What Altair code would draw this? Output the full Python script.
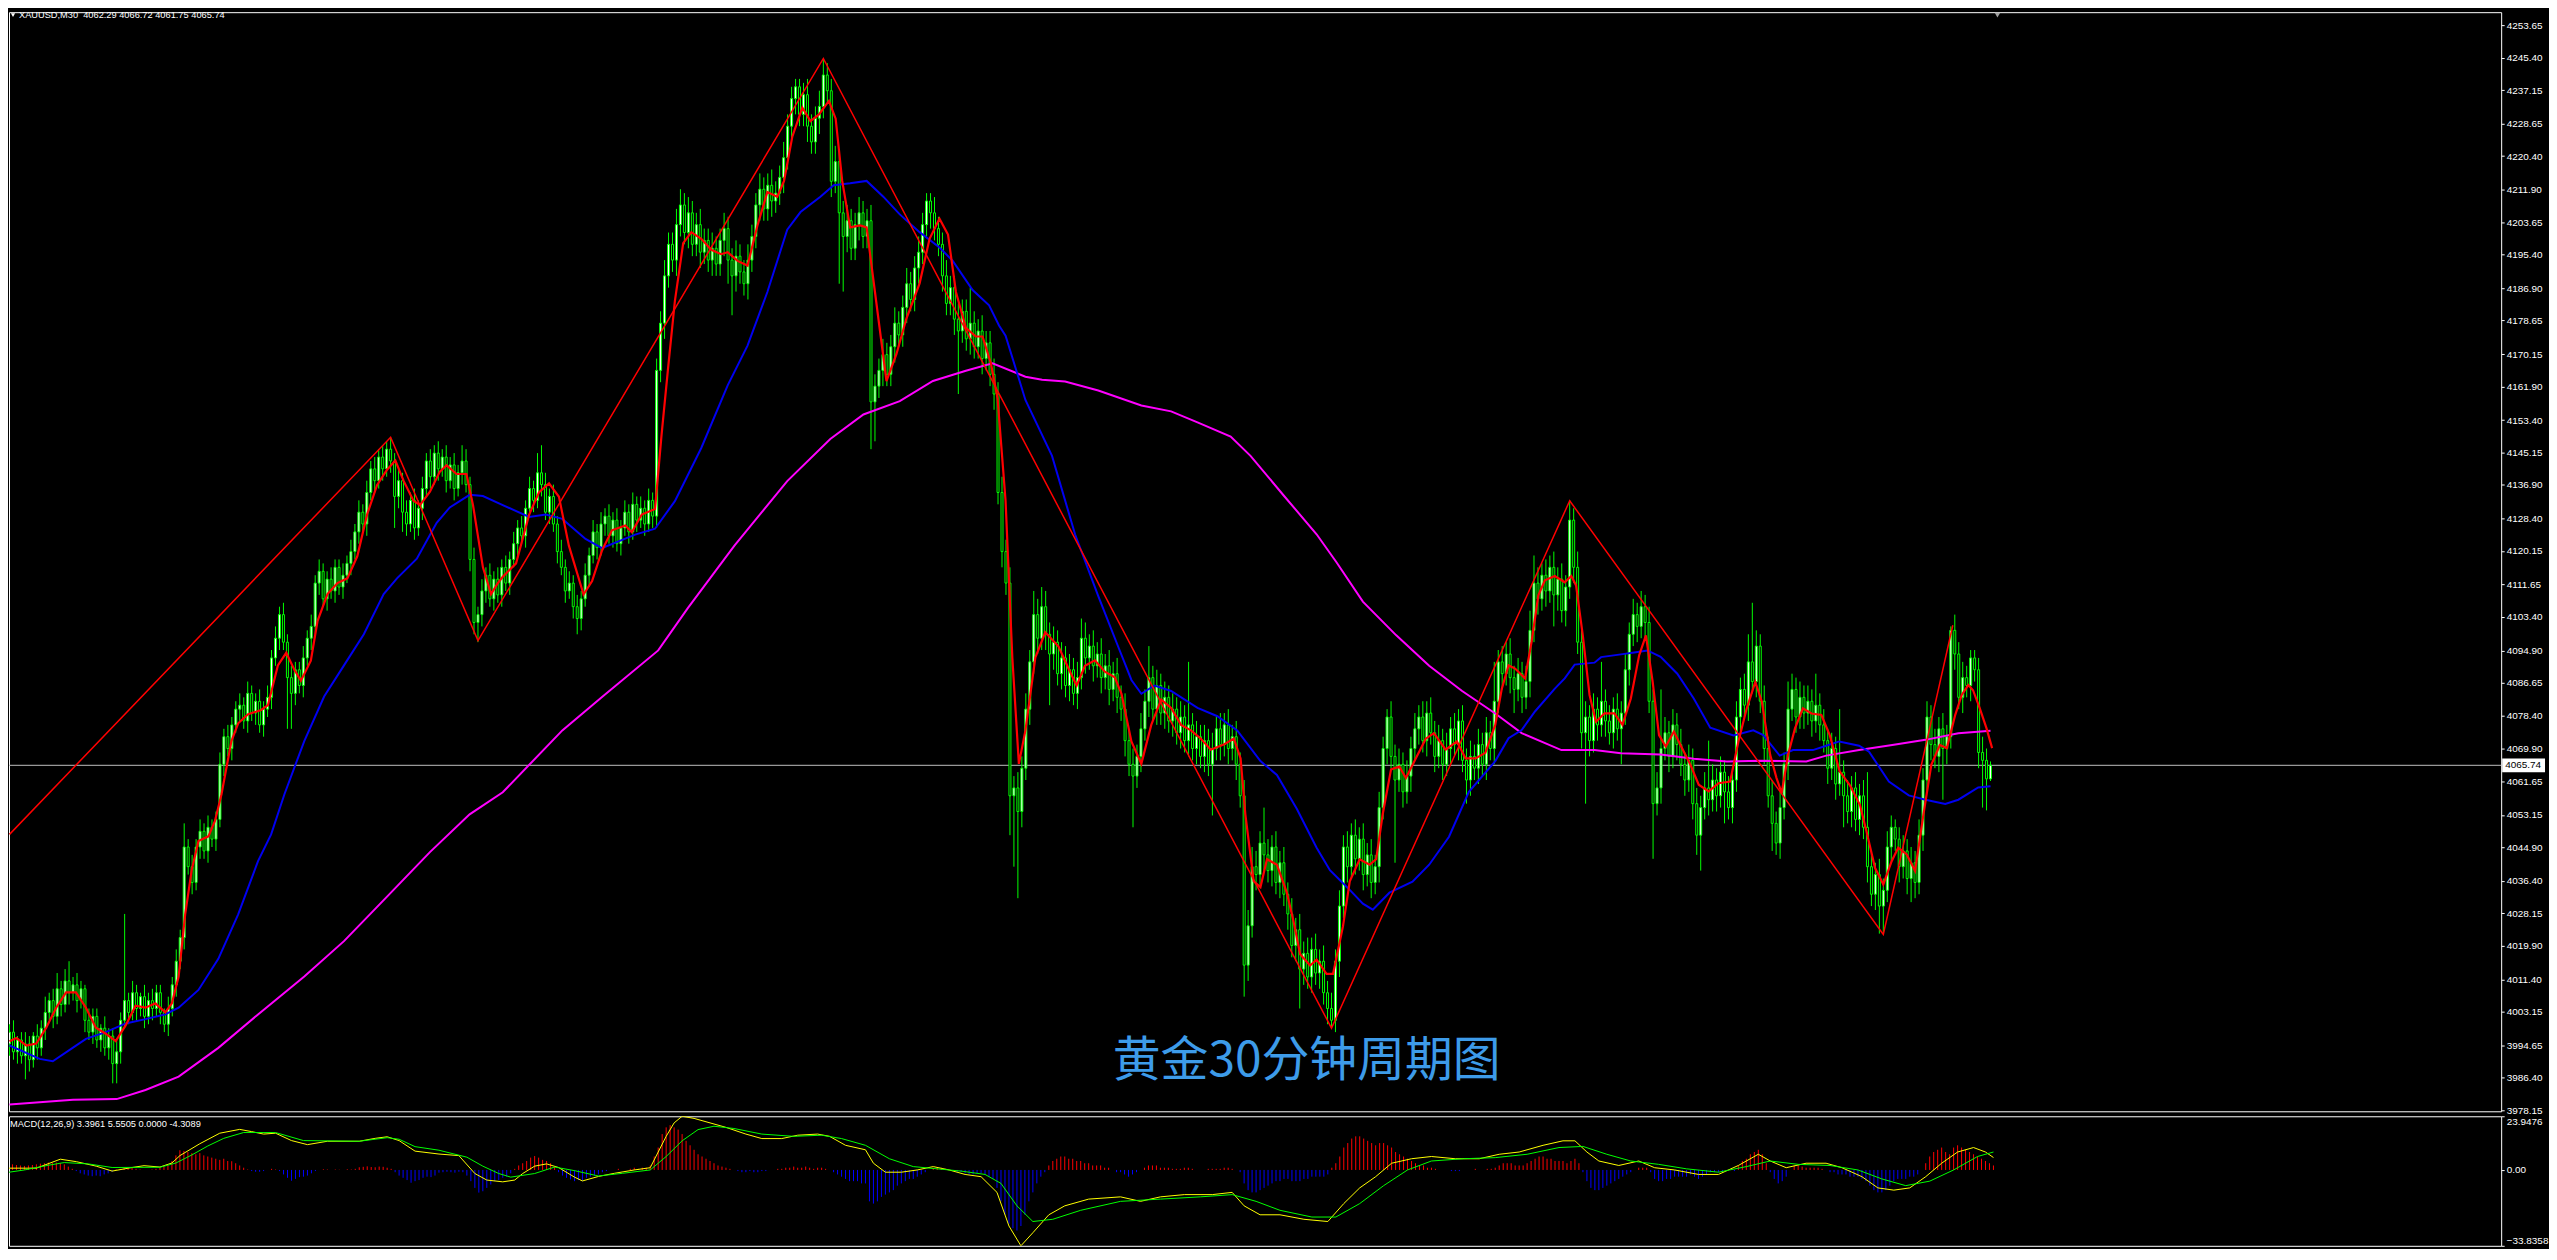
import altair as alt
import pandas as pd

# ---------------- data ----------------
PRICE_TICKS = [4253.65, 4245.40, 4237.15, 4228.65, 4220.40, 4211.90, 4203.65, 4195.40,
               4186.90, 4178.65, 4170.15, 4161.90, 4153.40, 4145.15, 4136.90, 4128.40,
               4120.15, 4111.65, 4103.40, 4094.90, 4086.65, 4078.40, 4069.90, 4061.65,
               4053.15, 4044.90, 4036.40, 4028.15, 4019.90, 4011.40, 4003.15, 3994.65,
               3986.40, 3978.15]
MACD_TICKS = [23.9476, 0.0, -33.8358]

FIRST_OPEN = 3995.0
CLOSE = [
    3998, 3993, 3996, 3992, 3995, 3991, 3997, 3994, 3999,
    4003, 4006, 4002, 4009, 4005, 4011, 4008, 4010,
    4006, 4009, 4001, 3998, 4002, 3996, 3999, 3994, 3997, 3990, 3993,
    4001, 4006, 4003, 4008, 4004, 4007, 4002, 4006, 4004, 4008, 4003, 4000, 4004,
    4010, 4016, 4022, 4045, 4040, 4036, 4045, 4049, 4044, 4050, 4047, 4052,
    4066, 4073, 4070, 4076, 4080,
    4081, 4077, 4084, 4079, 4082, 4076, 4080, 4083,
    4093, 4098, 4104, 4097, 4088,
    4084, 4090, 4086, 4093,
    4098, 4101, 4112, 4115, 4108, 4113,
    4110, 4116, 4111, 4114, 4117, 4120,
    4125, 4130, 4127, 4135, 4141, 4138, 4144,
    4141, 4146, 4143, 4134, 4138,
    4130, 4127, 4133, 4126, 4131, 4136,
    4143, 4139, 4145, 4141, 4144, 4138, 4142, 4136, 4140, 4143, 4137,
    4118, 4102, 4104, 4110, 4114, 4108, 4113, 4109, 4116,
    4112, 4118, 4122, 4126, 4124, 4131, 4136, 4133, 4140, 4137, 4130,
    4134, 4127, 4120, 4116, 4110, 4112, 4106, 4103, 4108,
    4114, 4119, 4125, 4121, 4127,
    4129, 4124, 4128, 4122, 4126, 4130, 4125, 4132, 4128, 4131, 4127, 4133, 4129,
    4166, 4178, 4190, 4198, 4194,
    4203, 4208, 4201, 4206,
    4198, 4203, 4196, 4199, 4194, 4197, 4193, 4199, 4202, 4194, 4190, 4195, 4191, 4188, 4194,
    4200, 4208, 4212, 4207, 4213, 4209, 4211, 4215, 4220,
    4228, 4235, 4238, 4231, 4236,
    4228, 4224, 4230, 4233,
    4241, 4237,
    4214, 4219, 4206, 4200, 4204, 4197, 4203, 4206, 4200, 4204,
    4158, 4162, 4166, 4170, 4165, 4172,
    4178, 4175, 4182, 4188, 4184, 4192, 4196,
    4203, 4209, 4206, 4202, 4198,
    4190, 4183, 4187, 4179, 4176, 4181, 4174,
    4178, 4172, 4176, 4169, 4173, 4165, 4160,
    4135, 4120, 4112, 4058, 4060, 4054,
    4065, 4080, 4092, 4104, 4098, 4106,
    4099, 4094, 4097, 4089, 4093, 4086, 4090, 4084, 4088,
    4098, 4093, 4096, 4091, 4094, 4088, 4091, 4085, 4089, 4083, 4080,
    4072, 4066, 4063, 4068,
    4075, 4082, 4088, 4080, 4086, 4079,
    4083, 4077, 4080, 4074, 4078, 4072, 4076, 4070, 4073, 4068, 4072, 4066, 4070, 4075, 4071, 4076, 4070, 4073,
    4066, 4058, 4015, 4025, 4040, 4038, 4046,
    4043, 4039, 4045, 4036, 4041, 4033,
    4028, 4020, 4024, 4014, 4018,
    4012, 4019, 4013, 4016, 4008, 4004, 4001, 4016,
    4030, 4045, 4040, 4048,
    4042, 4047, 4038, 4043, 4036, 4040,
    4055, 4070, 4078, 4068,
    4062, 4066, 4059, 4063, 4070,
    4075, 4078, 4072, 4079, 4074,
    4068, 4072, 4066, 4070, 4075, 4071, 4077, 4067,
    4062, 4068, 4065, 4071, 4066, 4074, 4070, 4082,
    4092, 4089, 4094, 4088, 4085, 4089, 4083, 4087,
    4100, 4112, 4108, 4114, 4110, 4116, 4109, 4113, 4105, 4111, 4128, 4116, 4097, 4074,
    4078, 4072, 4080,
    4076, 4082, 4077, 4074, 4080, 4075, 4079,
    4090, 4099, 4104, 4101, 4106, 4102,
    4082, 4056, 4060, 4070, 4074, 4068, 4076, 4071,
    4066, 4062, 4067, 4056, 4048, 4055, 4060, 4057,
    4062, 4058, 4064, 4059, 4055, 4062,
    4078, 4085, 4081, 4092, 4087, 4096,
    4082, 4070, 4058, 4051, 4046, 4055,
    4066, 4080, 4085, 4078, 4083,
    4079, 4082, 4077, 4081, 4076,
    4072, 4065, 4070, 4061, 4064,
    4058, 4054, 4060, 4052, 4058, 4050,
    4040, 4033, 4038, 4030, 4034,
    4045, 4050, 4047,
    4040, 4044, 4037, 4041, 4036,
    4048, 4062, 4078, 4071, 4068, 4075,
    4070, 4073, 4100, 4094,
    4083, 4088, 4086, 4093, 4090,
    4069, 4067, 4062.29, 4065.74,
]

UPPER_WICK = [
    2, 3, 1, 2, 3, 2, 1, 3, 2, 4,
    2, 3, 4, 2, 3, 5, 2, 3, 2, 1,
    3, 2, 2, 1, 3, 2, 2, 3, 2, 22,
    2, 3, 2, 1, 3, 2, 3, 2, 2, 1,
    3, 2, 3, 2, 6, 2, 3, 2, 3, 2,
    3, 2, 2, 3, 2, 3, 2, 2, 3, 2,
    3, 2, 2, 3, 2, 3, 2, 3, 2, 3,
    2, 3, 2, 2, 3, 2, 3, 2, 3, 2,
    2, 3, 2, 2, 3, 2, 3, 2, 3, 2,
    3, 2, 3, 2, 3, 2, 3, 2, 3, 2,
    3, 2, 3, 2, 3, 2, 3, 2, 3, 2,
    3, 2, 3, 2, 4, 3, 2, 3, 2, 3,
    2, 3, 2, 3, 2, 3, 2, 3, 2, 3,
    2, 3, 2, 5, 7, 3, 2, 3, 2, 3,
    2, 3, 2, 3, 2, 3, 2, 3, 2, 3,
    2, 3, 2, 3, 2, 3, 2, 3, 2, 3,
    2, 3, 2, 3, 3, 4, 3, 3, 4, 4,
    3, 4, 3, 3, 4, 3, 3, 4, 3, 3,
    4, 3, 3, 4, 3, 3, 4, 3, 3, 4,
    3, 3, 4, 3, 3, 4, 3, 3, 2, 2,
    3, 4, 3, 3, 4, 4, 3, 3, 4, 3,
    3, 4, 3, 3, 4, 3, 3, 4, 3, 3,
    4, 3, 3, 4, 3, 3, 4, 3, 3, 4,
    3, 2, 2, 4, 3, 3, 4, 3, 3, 4,
    3, 3, 9, 3, 3, 4, 3, 3, 4, 3,
    4, 3, 4, 3, 4, 3, 4, 3, 6, 4,
    5, 4, 3, 4, 3, 4, 3, 4, 3, 4,
    5, 4, 3, 4, 3, 4, 3, 4, 3, 4,
    3, 4, 3, 4, 3, 4, 3, 8, 3, 4,
    3, 4, 3, 4, 3, 4, 3, 16, 3, 4,
    3, 4, 3, 4, 3, 4, 3, 4, 3, 4,
    3, 4, 4, 5, 4, 3, 9, 4, 3, 4,
    3, 4, 3, 4, 3, 4, 3, 4, 3, 4,
    3, 4, 3, 4, 3, 4, 3, 4, 3, 4,
    3, 4, 3, 4, 3, 4, 3, 2, 4, 3,
    4, 3, 4, 3, 4, 3, 4, 3, 4, 3,
    4, 3, 4, 3, 4, 3, 4, 3, 4, 3,
    4, 3, 4, 3, 10, 3, 4, 3, 4, 3,
    4, 3, 4, 5, 7, 4, 3, 4, 3, 4,
    3, 4, 3, 5, 3, 4, 3, 4, 3, 4,
    3, 10, 3, 4, 3, 4, 3, 4, 3, 4,
    3, 4, 3, 4, 3, 4, 15, 4, 3, 4,
    3, 4, 3, 4, 3, 4, 3, 4, 12, 4,
    3, 4, 3, 4, 3, 4, 3, 4, 7, 15,
    4, 3, 4, 3, 4, 3, 4, 3, 7, 4,
    3, 4, 3, 4, 3, 8, 3, 4, 3, 4,
    3, 16, 3, 4, 3, 4, 3, 4, 14, 4,
    3, 4, 3, 4, 3, 2, 3, 4, 3, 4,
    3, 4, 3, 4, 3, 4, 3, 4, 3, 1,
    4, 3, 4, 3, 2, 2, 3, 4, 3, 0.98,
]

LOWER_WICK = [
    3, 2, 3, 2, 6, 3, 2, 3, 2, 3,
    2, 3, 2, 3, 2, 3, 2, 3, 2, 3,
    2, 3, 2, 3, 2, 3, 5, 5, 3, 2,
    3, 2, 3, 2, 3, 2, 3, 2, 3, 2,
    3, 2, 3, 2, 3, 2, 3, 2, 3, 2,
    3, 2, 3, 2, 3, 2, 3, 2, 3, 2,
    3, 2, 3, 2, 3, 2, 3, 2, 3, 2,
    13, 9, 3, 2, 3, 2, 3, 2, 3, 2,
    3, 2, 3, 2, 3, 2, 3, 2, 3, 2,
    3, 2, 3, 2, 3, 2, 3, 8, 3, 5,
    3, 2, 3, 2, 3, 2, 3, 2, 3, 2,
    3, 2, 3, 2, 3, 2, 3, 3, 5, 3,
    3, 2, 3, 2, 3, 2, 3, 2, 3, 2,
    3, 2, 3, 2, 3, 2, 3, 2, 3, 2,
    3, 2, 3, 4, 3, 2, 3, 2, 3, 2,
    3, 2, 3, 2, 3, 2, 3, 2, 3, 2,
    3, 2, 3, 3, 3, 4, 3, 3, 4, 3,
    3, 4, 3, 3, 4, 3, 3, 4, 3, 3,
    4, 6, 10, 4, 3, 3, 4, 3, 3, 4,
    3, 3, 4, 3, 3, 4, 3, 3, 4, 3,
    3, 4, 3, 3, 4, 3, 3, 4, 3, 18,
    14, 4, 3, 3, 4, 3, 3, 12, 10, 3,
    4, 3, 3, 4, 3, 3, 4, 3, 3, 4,
    3, 3, 4, 3, 3, 4, 3, 3, 4, 16,
    3, 3, 4, 3, 3, 4, 3, 3, 4, 3,
    4, 3, 10, 18, 22, 4, 3, 4, 3, 4,
    3, 4, 13, 4, 3, 4, 3, 4, 3, 4,
    3, 4, 3, 4, 3, 4, 3, 4, 3, 4,
    3, 4, 3, 13, 3, 4, 3, 4, 3, 4,
    3, 4, 3, 4, 3, 4, 3, 4, 3, 4,
    3, 4, 3, 13, 3, 4, 3, 4, 3, 4,
    3, 8, 4, 3, 4, 3, 4, 3, 4, 3,
    4, 3, 4, 3, 4, 10, 4, 3, 4, 3,
    4, 3, 4, 2, 3, 4, 3, 4, 3, 4,
    3, 4, 3, 4, 3, 4, 3, 4, 3, 21,
    3, 4, 3, 4, 3, 4, 3, 4, 3, 4,
    3, 4, 3, 4, 3, 4, 3, 6, 4, 3,
    4, 3, 4, 3, 4, 3, 4, 3, 4, 6,
    3, 4, 3, 4, 3, 4, 3, 4, 3, 8,
    4, 3, 4, 3, 4, 3, 4, 18, 4, 3,
    4, 3, 4, 3, 4, 3, 9, 3, 4, 3,
    4, 3, 4, 3, 14, 3, 4, 3, 4, 3,
    4, 3, 4, 3, 4, 5, 9, 3, 4, 3,
    4, 3, 8, 3, 4, 3, 4, 3, 4, 3,
    4, 3, 4, 3, 7, 3, 4, 3, 4, 3,
    4, 3, 4, 3, 4, 3, 4, 3, 4, 3,
    4, 3, 8, 3, 4, 3, 4, 3, 4, 3,
    4, 7, 7, 3, 4, 3, 4, 3, 4, 6,
    4, 3, 4, 3, 4, 3, 4, 13, 4, 3,
    4, 3, 4, 3, 4, 3, 4, 12, 8, 0.54,
]

MACD_HIST = [
    3.9, 3.0, 2.5, 2.2, 2.0, 1.8, 2.0, 2.2, 2.5, 2.8, 3.0, 3.3, 3.2, 3.3, 3.0, 2.5, 1.5,
    0.5,
    -0.5, -1.5, -2.0, -2.5, -2.8, -2.5, -2.8, -2.0, -1.5, -0.8,
    0.3, 0.5, 0.8, 1.2, 1.0, 0.5, 0.2, 0, 0, 0.2, 0.5,
    1.0, 1.5, 2.0, 4.0, 6.5, 8.8, 8.5, 8.0, 7.5, 7.0, 7.5, 6.5, 6.0, 5.5, 5.0, 4.5, 5.0, 4.0, 3.9, 3.0, 2.0, 1.0,
    0.2, -0.5, -0.8, -0.8, -0.5, 0, 0.5, 0.2, -0.5,
    -2.0, -3.5, -4.8, -4.0, -3.2, -3.0, -2.5, -1.5,
    -0.5, 0, 0.3, 0.2, 0, 0.2, 0.1, 0, 0.3, 0.2, 0.5,
    1.2, 1.4, 1.6, 1.3, 1.2, 1.5, 1.4, 1.0, 0.5,
    -1.0, -2.5, -3.5, -4.5, -5.7, -5.0, -4.5, -3.5, -3.0, -3.2, -2.5,
    -1.2, -1.0, -0.8, -1.0, -1.2, -0.8, -1.0, -2.5, -5.0,
    -8.0, -10.1, -9.5, -8.0, -6.5, -5.0,
    -4.5, -3.5, -3.0, -1.5,
    0.5, 2.0, 3.0, 4.0, 5.5, 6.2, 5.5, 4.5, 4.0, 3.0, 1.5,
    -1.0, -2.5, -3.5, -4.2, -5.0, -4.5, -4.8, -3.5, -3.0, -2.5, -2.0,
    -1, -0.5, 0, 0, 0.5, 0, 0, 0.5, 1, 0.5, 1, 1, 2,
    6, 10, 16, 19, 20, 19, 18, 16, 13, 11, 9,
    7, 6, 5, 4, 3, 2, 1.5, 1, 0.5, 0, -0.5, -1, -1,
    -0.5, -1, -1, -0.5, -0.5, 0, 0, 0.5, 0.5, 1, 1, 1.5, 1, 1, 1.5, 1, 0.5, 1,
    1, 0.5, 0, -1, -2, -3, -4, -5, -5, -5, -6, -6,
    -14, -15, -14, -12, -11, -10, -9, -7, -6, -5, -4, -4, -3, -2,
    -1, 0, 1, 1, 1, 0.5, 0, -0.5, -1, -1, -1.5, -2, -2, -1.5, -1.5, -2, -3, -4,
    -8, -14, -20, -24, -26, -27, -25, -20, -14, -10, -6, -3, -1, 2,
    4, 5, 6, 6, 5, 5, 4, 4, 3, 3, 2, 2, 2, 1, 1, 0, -1, -1,
    -2, -3, -2, -1, 0, 1, 2, 2, 2, 1, 1, 1, 0.5, 0.5, 0.5, 1, 1, 0.5, 0, 0,
    0, 0.5, 0.5, 0.5, 0.5, 1, 1, 0.5, 0, -1,
    -6, -9, -10, -10, -9, -8, -7, -6, -5, -5, -4, -4, -5, -5, -5, -4, -4, -3, -3, -3, -3, -2,
    1, 3, 6, 10, 12, 14, 15, 15, 14, 13, 12, 11, 12, 12, 11, 10, 8, 7,
    6, 5, 4, 3, 2, 2, 1, 1, 0.5, 0, 0, 0, -0.5, -0.5, -0.5, 0, 0, 0, 0.5, 0, 0, 0.5, 0.5, 1,
    2, 3, 3, 3, 2, 2, 2, 3, 4, 5, 6, 6, 5, 5, 4, 4, 4, 3, 4, 5, 3, -1,
    -5, -8, -9, -9, -8, -7, -6, -5, -4, -3, -2, -1, 0, 1, 1, 1,
    -1, -4, -5, -5, -4, -4, -3, -3, -3, -3, -2, -3, -4, -3, -2, -1, -1, -1, -1, 0, 0, -0.5,
    2, 4, 5, 7, 8, 9, 7, 3, -1, -4, -6, -5,
    -3, 0, 2, 2, 1.5, 1, 1, 1, 1, 0.5, 0, -1, -1, -2, -2, -2, -3, -3, -3,
    -4, -5, -7, -9, -10, -10, -9, -7, -5, -4, -4, -4, -3, -3, -2,
    0, 3, 6, 8, 9, 10, 8, 7, 10, 11, 10, 9, 8, 7, 6, 5, 4, 3, 2,
]

RED_MA = [
    (0, 3995.7), (1.75, 3996.5), (4.25, 3994.6), (6.75, 3995.1), (9.25, 3999.1), (11.75, 4004.2),
    (14.25, 4008.1), (16.75, 4008.1), (19.25, 4004.2), (21.75, 3999.1), (24.25, 3997.6), (26.75, 3995.7),
    (29.25, 3999.7), (31.75, 4004.7), (34.25, 4004.2), (36.75, 4005.3), (39.25, 4003.0), (40.9, 4005.3),
    (42.6, 4012.1), (44.25, 4027.9), (45.9, 4039.2), (47.6, 4046.5), (50.1, 4047.7), (51.75, 4051.6),
    (53.4, 4058.4), (55.9, 4071.9), (57.6, 4076.4), (60.1, 4078.7), (63.4, 4079.8), (65.1, 4081.0),
    (67.6, 4091.1), (69.7, 4094.3), (71.75, 4090.0), (73.4, 4087.2), (75.9, 4092.3), (77.6, 4102.4),
    (80.1, 4109.2), (82.6, 4112.0), (85.1, 4113.2), (87.6, 4118.8), (90.1, 4129.5), (92.6, 4136.9),
    (95.1, 4140.8), (97.2, 4143.1), (99.25, 4138.0), (101.75, 4132.9), (103.4, 4131.8), (105.9, 4135.2),
    (108.4, 4140.3), (110.1, 4141.9), (112.6, 4139.7), (115.1, 4139.7), (116.75, 4131.8), (119.25, 4116.0),
    (121.3, 4109.2), (123, 4112.0), (124.25, 4113.6),
    (127.6, 4117.0), (130.9, 4129.4), (133.4, 4135.1), (135.9, 4137.3), (138.4, 4133.9), (140.9, 4121.5),
    (144.6, 4109.1), (146.75, 4112.5), (149.25, 4120.3), (151.75, 4125.4), (155.1, 4126.6), (156.75, 4124.9),
    (159.25, 4129.4), (162.6, 4130.8), (164.25, 4149.7), (165.9, 4166.7), (167.6, 4183.6), (169.7, 4198.3),
    (171.75, 4201.1), (174.25, 4199.4), (176.75, 4196.6), (179.25, 4195.5), (180.9, 4196.0), (183.4, 4193.8),
    (185.9, 4192.6), (188.4, 4202.8), (190.9, 4211.3), (193.4, 4210.1), (195.1, 4214.1), (197.2, 4225.4),
    (199.7, 4232.7), (201.75, 4229.3), (203.9, 4231.0), (206.4, 4234.4), (208.1, 4229.9), (209.75, 4214.1),
    (211.75, 4202.3), (214.25, 4202.8), (215.9, 4202.3), (218, 4185.9), (220.9, 4163.3), (223.4, 4170.1),
    (225.9, 4179.1), (229.25, 4188.1), (231.75, 4199.4), (234.25, 4204.5), (236.4, 4200.5), (238.4, 4185.9),
    (240.9, 4176.8), (243.4, 4174.6), (245.1, 4174.6), (247.2, 4167.8), (248.9, 4158.8),
    (249.25, 4154.2), (250.9, 4132.9), (252.6, 4093.1), (254.25, 4066.1), (255.9, 4074.6), (258.4, 4093.1),
    (260.9, 4099.5), (264.25, 4095.9), (266.75, 4090.3), (268.8, 4086.0), (270.9, 4091.0), (273.4, 4092.4),
    (275.9, 4089.5), (278.4, 4088.1), (280.1, 4083.9), (282.6, 4071.8), (285.1, 4066.1), (287.6, 4076.0),
    (290.1, 4082.4), (292.6, 4080.3), (295.1, 4076.0), (297.6, 4074.6), (300.1, 4072.5), (302.6, 4069.7),
    (306, 4071.1), (308.4, 4072.5), (310.1, 4067.5), (311.3, 4053.3), (313.4, 4036.3), (315.1, 4034.8),
    (316.75, 4041.9), (319.25, 4040.5), (321.75, 4033.4), (323.4, 4026.3), (325.1, 4017.8), (327.6, 4014.9),
    (329.25, 4016.4), (331.75, 4012.8), (333.4, 4012.8), (335.9, 4024.9), (337.6, 4036.3), (340.1, 4041.9),
    (342.6, 4040.5), (344.25, 4041.9), (345.9, 4053.3), (348, 4064.7), (350.1, 4065.4), (351.75, 4062.5),
    (354.25, 4067.5), (356.75, 4072.5), (358.8, 4073.9), (361.75, 4069.7), (364.6, 4071.8), (366.75, 4067.5),
    (369.25, 4067.5), (371.75, 4068.9), (374.25, 4076.0),
    (375.9, 4085.2), (377.6, 4091.1), (379.25, 4090.3), (381.75, 4087.8), (383.4, 4097.1), (385.1, 4108.9),
    (386.75, 4112.7), (389.25, 4113.8), (391.75, 4112.2), (393.4, 4113.8), (394.6, 4111.4), (396.3, 4098.7),
    (398, 4083.6), (399.6, 4076.8), (401.75, 4078.9), (404.25, 4078.9), (406.3, 4076.0), (408.4, 4082.7),
    (410.5, 4093.7), (412.2, 4098.7), (413.9, 4086.9), (415.5, 4073.4), (417.2, 4070.5), (419.25, 4074.3),
    (420.9, 4070.9), (423.4, 4065.9), (425.5, 4060.8), (428, 4059.1), (430.5, 4061.2), (433.4, 4061.6),
    (435.5, 4071.8), (437.6, 4080.2), (439.75, 4086.9), (441.4, 4081.9), (443.5, 4068.4), (445.1, 4062.5),
    (446.4, 4058.7), (448, 4068.4), (449.75, 4075.1), (451.75, 4080.2), (453.9, 4078.9), (456.4, 4078.5),
    (458.5, 4073.4), (461, 4064.2), (463.5, 4060.8), (466.1, 4055.7), (467.75, 4049.0), (469.9, 4039.7),
    (472, 4035.5), (474.1, 4041.4), (475.75, 4044.8), (477.9, 4043.1), (480, 4038.9), (482.1, 4053.2),
    (484.1, 4065.9), (486.25, 4070.9), (488, 4070.1), (490.1, 4078.5), (491.75, 4083.6), (493.4, 4086.1),
    (494.6, 4084.8), (496.3, 4080.2), (498, 4075.1), (499.4, 4070.1),
]

BLUE_MA = [
    (0, 3994.6), (7.6, 3991.2), (10.9, 3990.6), (15.9, 3994.0), (19.25, 3996.3), (24.25, 3998.0),
    (29.25, 4000.2), (34.25, 4001.3), (39.25, 4002.5), (42.6, 4004.2), (47.6, 4008.7), (52.6, 4016.6),
    (57.6, 4027.9), (62.6, 4041.4), (65.9, 4048.2), (69.25, 4058.4), (74.25, 4071.9), (79.25, 4083.2),
    (84.25, 4091.1), (89.25, 4099.0), (94.25, 4109.2), (97.6, 4113.2), (102.6, 4118.2), (107.6, 4127.3),
    (110.9, 4131.2), (115.9, 4134.4), (119.25, 4134.1), (124.25, 4131.8), (130.9, 4128.8), (135.1, 4129.4),
    (139.25, 4128.3), (145.1, 4123.2), (149.25, 4120.9), (153.4, 4122.6), (157.6, 4124.3), (162.6, 4125.8),
    (167.6, 4132.8), (174.25, 4146.3), (180.9, 4162.2), (185.9, 4172.3), (190.9, 4185.9), (195.9, 4201.7),
    (199.25, 4206.2), (204.25, 4210.1), (207.6, 4213.0), (211.75, 4213.5), (215.9, 4214.1), (220.1, 4210.1),
    (224.25, 4205.6), (229.25, 4201.1), (234.25, 4197.2), (237.6, 4193.8), (242.6, 4186.4), (246.75, 4182.5),
    (249.25, 4177.4), (250.9, 4174.8), (255.9, 4158.5), (262.6, 4144.3), (268.4, 4124.4), (274.25, 4108.7),
    (279.25, 4095.9), (282.6, 4087.4), (285.1, 4083.9), (288.4, 4086.0), (292.6, 4084.6), (299.25, 4080.3),
    (304.25, 4078.2), (309.25, 4074.6), (315.1, 4066.8), (319.25, 4063.3), (324.25, 4054.7), (329.25, 4044.8),
    (332.6, 4039.1), (337.6, 4034.1), (340.9, 4030.6), (343.4, 4029.1), (347.6, 4033.4), (353.4, 4036.2),
    (357.6, 4040.5), (362.6, 4047.6), (367.6, 4059.0), (374.25, 4066.8), (377.6, 4072.6), (380.9, 4074.7),
    (384.25, 4079.4), (389.25, 4085.2), (391.75, 4087.8), (394.25, 4091.3), (399.25, 4091.8), (400.9, 4093.2),
    (405.9, 4093.9), (409.25, 4094.4), (412.6, 4094.9), (415.9, 4093.3), (420.1, 4089.0), (424.25, 4082.7),
    (428.4, 4075.3), (434.25, 4073.3), (439.25, 4074.6), (441.75, 4073.4), (445.9, 4068.2), (449.25, 4069.6),
    (454.25, 4069.6), (457.6, 4070.7), (460.9, 4071.8), (465.9, 4070.7), (468.4, 4069.2), (473.4, 4061.6),
    (478.4, 4058.1), (482.6, 4057.0), (487.6, 4055.9), (490.9, 4057.0), (495.9, 4060.1), (499, 4060.4),
]

MAGENTA_MA = [
    (0, 3979.6), (16, 3980.8), (27, 3981.0), (34.25, 3983.3), (42.6, 3986.7), (52.6, 3994.0),
    (62.6, 4002.5), (74.25, 4012.1), (84.25, 4021.1), (95.1, 4032.4), (105.9, 4043.7), (115.9, 4053.3),
    (124.25, 4058.9), (139.25, 4074.6), (149.25, 4083.1), (163.4, 4094.9), (170.9, 4105.7), (182.6, 4121.5),
    (195.9, 4137.9), (206.75, 4148.6), (215.1, 4154.8), (224.25, 4158.2), (232.6, 4163.3), (240.9, 4165.9),
    (247.6, 4167.8), (255.9, 4164.4), (260.1, 4163.6), (265.9, 4163.2), (274.25, 4160.9), (285.1, 4157.1),
    (292.6, 4155.6), (299.25, 4152.8), (307.6, 4149.2), (312.6, 4144.3), (320.9, 4134.3), (329.25, 4124.4),
    (334.25, 4117.3), (340.9, 4107.3), (349.25, 4098.8), (357.6, 4091.0), (365.9, 4084.6), (374.25, 4078.9),
    (380.9, 4073.9), (390.9, 4069.6), (399.25, 4069.6), (405.9, 4068.8), (415.9, 4068.5), (424.25, 4067.4),
    (432.6, 4066.7), (440.9, 4066.9), (452.6, 4066.7), (457.6, 4068.2), (465.9, 4069.6), (474.25, 4070.9),
    (482.6, 4072.2), (490.9, 4073.9), (499, 4074.5),
]

ZIGZAG = [(0, 4048.2), (96, 4149.0), (118, 4097.4), (205, 4245.2), (333, 3999.0),
          (393, 4132.9), (472, 4022.8), (489.5, 4101.3)]

MACD_MAIN = [
    (0, 0.8), (8, 0.8), (14, 4.8), (18, 3.7), (23, 1.7), (27, -0.5), (32, 1.1), (35, 1.9), (39, 1.3),
    (42, 3.1), (44, 6.4), (49, 11.7), (54, 16.4), (59, 18.1), (62, 17.1), (65, 16.0), (68, 16.4),
    (72, 13.1), (76, 11.3), (81, 12.8), (89, 12.8), (93, 14.1), (96, 14.8), (99, 13.1), (103, 8.4),
    (109, 7.1), (114, 6.4), (118, -1.6), (121, -4.5), (125, -5.3), (128, -4.5), (130, -1.6), (133, 1.7),
    (136, 2.7), (139, 1.1), (143, -3.2), (145, -4.9), (149, -2.9), (153, -1.5), (158, 0), (162, 1),
    (164, 8), (166, 15), (168, 21), (170, 23.9476), (173, 23), (177, 21), (181, 19), (186, 16), (190, 14),
    (195, 14), (199, 15.5), (204, 16), (207, 15), (211, 11), (216, 9), (218, 3), (221, -1), (225, -1),
    (229, 0), (233, 1.5), (237, 0), (241, -2), (245, -3), (249, -10), (252, -25), (255, -33.8358),
    (258, -28), (262, -20), (266, -16), (272, -13), (280, -12), (285, -14), (290, -12), (296, -11),
    (303, -11), (308, -10), (311, -16), (315, -20), (320, -20), (326, -22), (332, -23), (336, -15),
    (340, -8), (344, -3), (348, 3), (353, 5), (358, 6), (364, 5), (370, 5), (375, 7), (380, 8),
    (386, 11), (391, 13), (394, 13), (397, 8), (400, 4), (405, 2), (410, 4), (414, 1), (419, 0),
    (425, -2), (430, -2), (435, 2), (440, 7), (443, 4), (447, 1), (452, 3), (457, 3), (461, 1),
    (466, -3), (470, -8), (474, -9), (478, -8), (482, -3), (486, 3), (490, 8), (494, 10), (497, 8),
    (499, 5.55),
]

MACD_SIGNAL = [
    (0, -1.3), (5, 0), (11, 2.1), (15, 3.3), (21, 2.7), (27, 1.1), (39, 1.2), (43, 3.1), (47, 6.7),
    (51, 10.7), (55, 14.1), (60, 16.7), (68, 16.7), (75, 13.1), (89, 12.8), (96, 14.4), (99, 13.7),
    (103, 10.4), (109, 8.8), (116, 5.7), (120, 1.7), (124, -1.6), (127, -3.2), (133, -1.6), (138, 1.3),
    (143, -0.3), (149, -2.7), (155, -1.5), (162, 0), (166, 6), (170, 13), (174, 18), (178, 19.5),
    (183, 18.5), (190, 16), (198, 15), (205, 15.5), (210, 14), (216, 11), (222, 5), (228, 1.5),
    (234, 0.5), (240, -0.5), (246, -2), (250, -6), (254, -16), (258, -23), (263, -22), (270, -18),
    (280, -14), (290, -13), (300, -12), (308, -11), (314, -14), (320, -18), (328, -21), (334, -21),
    (340, -15), (346, -7), (352, 0), (358, 4), (366, 5), (374, 5.5), (382, 7), (390, 10), (396, 10.5),
    (402, 7), (408, 4), (415, 2.5), (422, 0.5), (430, -1), (437, 1.5), (443, 4), (450, 2.5), (458, 2),
    (465, 0), (471, -4), (477, -7), (483, -5), (489, 0), (495, 6), (499, 8),
]

LAST_PRICE = 4065.74
HEADER = "XAUUSD,M30\u00a0 4062.29 4066.72 4061.75 4065.74"
MACD_HEADER = "MACD(12,26,9) 3.3961 5.5505 0.0000 -4.3089"
TITLE = "黄金30分钟周期图"
TITLE_AT = (326.75, 3990.5)   # (bar index, price) where the caption sits
SHIFT_MARK_AT = 500.75        # bar index of the chart-shift marker at the top

# ---------------- tables ----------------
n = len(CLOSE)
for nm, arr in [("UPPER_WICK", UPPER_WICK), ("LOWER_WICK", LOWER_WICK), ("MACD_HIST", MACD_HIST)]:
    if len(arr) != n:
        raise ValueError(f"{nm} has {len(arr)} values, CLOSE has {n}")

opens = [FIRST_OPEN] + CLOSE[:-1]
rows = []
for i in range(n):
    o, c = opens[i], CLOSE[i]
    top, bot = max(o, c), min(o, c)
    rows.append(dict(i=i, top=top, bot=bot, high=top + UPPER_WICK[i], low=bot - LOWER_WICK[i],
                     bull=bool(c >= o), h=MACD_HIST[i], z=0.0))
cdf = pd.DataFrame(rows)


def line_df(pairs):
    return pd.DataFrame({"i": [p[0] for p in pairs], "v": [p[1] for p in pairs]})


last_df = pd.DataFrame({"v": [LAST_PRICE], "v_hi": [LAST_PRICE + 1.75], "v_lo": [LAST_PRICE - 1.75],
                        "label": [f"{LAST_PRICE:.2f}"]})
title_df = pd.DataFrame({"i": [TITLE_AT[0]], "v": [TITLE_AT[1]], "label": [TITLE]})
shift_df = pd.DataFrame({"i": [SHIFT_MARK_AT]})
one = pd.DataFrame({"a": [0]})

LIME = "#00ff00"
W = 2501
H_MAIN = 1103
H_MACD = 130
XS = alt.Scale(domain=[1.125, 626.375], nice=False, zero=False)
X = alt.X("i:Q", scale=XS, axis=None)
YS = alt.Scale(domain=[3977.90, 4256.94], nice=False, zero=False)

AX_COMMON = dict(orient="right", grid=False, domain=False, tickSize=3, labelPadding=2,
                 tickColor="white", labelColor="white", labelFont="Liberation Sans",
                 labelFontSize=10, labelOverlap=False, labelBound=False, title=None)
YAX = alt.Axis(values=PRICE_TICKS, format=".2f", labelFlush=False, **AX_COMMON)


def Y(field):
    return alt.Y(field, type="quantitative", scale=YS, axis=YAX, title=None)


price_line = alt.Chart(last_df).mark_rule(color="#c0c0c0", strokeWidth=1).encode(y=Y("v"))

wick = alt.Chart(cdf).mark_rule(color=LIME, strokeWidth=1, clip=True).encode(
    x=X, y=Y("low"), y2="high:Q")
body = alt.Chart(cdf).mark_bar(width=2, stroke=LIME, strokeWidth=1, clip=True).encode(
    x=X, y=Y("top"), y2="bot:Q",
    fill=alt.condition("datum.bull", alt.value("#ffffff"), alt.value("#000000")))

mag = alt.Chart(line_df(MAGENTA_MA)).mark_line(color="#ff00ff", strokeWidth=2, clip=True).encode(x=X, y=Y("v"))
blue = alt.Chart(line_df(BLUE_MA)).mark_line(color="#0000f0", strokeWidth=2, clip=True).encode(x=X, y=Y("v"))
red = alt.Chart(line_df(RED_MA)).mark_line(color="#ff0000", strokeWidth=2.2, clip=True).encode(x=X, y=Y("v"))
zz = alt.Chart(line_df(ZIGZAG)).mark_line(color="#ff0000", strokeWidth=1.5, clip=True).encode(x=X, y=Y("v"))

caption = alt.Chart(title_df).mark_text(color="#3d9be9", fontSize=48, font="Noto Sans CJK SC",
                                        align="center", baseline="middle").encode(
    x=X, y=Y("v"), text="label:N")

header = alt.Chart(one).mark_text(color="white", fontSize=9.3, font="Liberation Sans",
                                  align="left", baseline="middle").encode(
    x=alt.value(10), y=alt.value(3), text=alt.value(HEADER))
header_tri = alt.Chart(one).mark_point(shape="triangle-down", filled=True, size=18, color="white",
                                       opacity=1).encode(x=alt.value(4), y=alt.value(3))
shift_tri = alt.Chart(shift_df).mark_point(shape="triangle-down", filled=True, size=30, color="#a0a0a0",
                                           opacity=1).encode(x=X, y=alt.value(3))

box = alt.Chart(last_df).mark_rect(color="white").encode(
    x=alt.value(W + 1), x2=alt.value(W + 44), y=Y("v_hi"), y2="v_lo:Q")
box_text = alt.Chart(last_df).mark_text(color="black", fontSize=10, font="Liberation Sans",
                                        align="left", baseline="middle").encode(
    x=alt.value(W + 4), y=Y("v"), text="label:N")

main = alt.layer(price_line, wick, body, mag, blue, red, zz, caption, header, header_tri,
                 shift_tri, box, box_text).properties(width=W, height=H_MAIN)

# ---------------- MACD panel ----------------
MS = alt.Scale(domain=[MACD_TICKS[2], MACD_TICKS[0]], nice=False, zero=False)
MAX = alt.Axis(values=MACD_TICKS, labelFlush=True,
               labelExpr="datum.value == 0 ? '0.00' : format(datum.value, '.4f')", **AX_COMMON)


def MY(field):
    return alt.Y(field, type="quantitative", scale=MS, axis=MAX, title=None)


hist = alt.Chart(cdf).mark_rule(strokeWidth=1, clip=True).encode(
    x=X, y=MY("z"), y2="h:Q",
    color=alt.condition("datum.h >= 0", alt.value("#ff0000"), alt.value("#0000ff")))
macd_line = alt.Chart(line_df(MACD_MAIN)).mark_line(color="#ffff00", strokeWidth=1, clip=True).encode(x=X, y=MY("v"))
sig_line = alt.Chart(line_df(MACD_SIGNAL)).mark_line(color=LIME, strokeWidth=1, clip=True).encode(x=X, y=MY("v"))
macd_label = alt.Chart(one).mark_text(color="white", fontSize=9.3, font="Liberation Sans",
                                      align="left", baseline="middle").encode(
    x=alt.value(1), y=alt.value(8), text=alt.value(MACD_HEADER))

macd = alt.layer(hist, macd_line, sig_line, macd_label).properties(width=W, height=H_MACD)

chart = alt.vconcat(main, macd, spacing=5, bounds="flush").properties(
    background="black", padding=0
).configure_view(stroke="white", strokeWidth=1).configure_axis(labelOverlap=False)

chart.save("out.html", embed_options={"renderer": "svg", "actions": False})
